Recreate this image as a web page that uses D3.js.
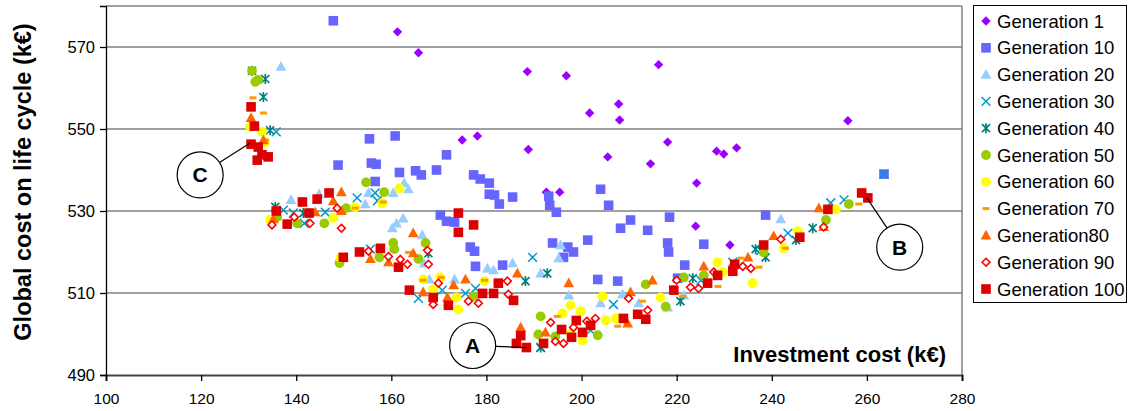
<!DOCTYPE html>
<html><head><meta charset="utf-8">
<script src="https://cdn.jsdelivr.net/npm/d3@7"></script>
<style>body{margin:0;background:#fff}svg{display:block}text{font-family:"Liberation Sans",Arial,sans-serif}</style>
</head><body>
<svg id="c" width="1129" height="411"></svg>
<script>
const xTicks=[100,120,140,160,180,200,220,240,260,280];
const yTicks=[490,510,530,550,570];
const seriesNames=["Generation 1","Generation 10","Generation 20","Generation 30","Generation 40","Generation 50","Generation 60","Generation 70","Generation80","Generation 90","Generation 100"];
const gen1=[[161.3,573.7],[165.7,568.6],[174.9,547.3],[178.1,548.3],[188.6,564.0],[188.8,545.0],[192.6,534.6],[195.4,534.6],[196.8,563.0],[201.7,553.9],[205.5,543.2],[207.8,556.1],[208.0,552.2],[214.5,541.5],[216.2,565.7],[218.1,546.8],[224.2,536.8],[224.0,526.3],[228.4,544.6],[229.9,543.9],[232.6,545.4],[231.2,521.7],[256.0,552.0]];
const gen10=[[147.8,576.4],[155.4,547.6],[160.8,548.3],[148.8,541.2],[155.8,541.7],[156.8,541.4],[161.7,539.4],[156.6,537.2],[171.6,543.7],[165.1,539.8],[166.3,538.8],[169.5,540.0],[177.3,538.8],[178.7,537.8],[180.6,536.8],[180.6,534.1],[181.7,533.9],[182.7,531.7],[185.5,533.4],[170.3,529.0],[171.6,527.5],[173.3,527.3],[176.6,521.2],[177.5,520.2],[177.7,516.5],[183.4,516.8],[193.1,533.6],[193.3,531.4],[194.7,529.7],[204.0,535.3],[205.7,531.4],[210.3,527.8],[208.2,525.8],[213.9,525.3],[218.5,528.5],[218.1,522.2],[218.3,520.0],[225.7,521.9],[238.7,529.0],[201.3,522.9],[193.9,522.2],[197.1,521.2],[198.3,520.0],[196.2,518.7],[203.4,513.3],[207.6,512.9],[221.7,516.8],[220.2,513.6],[263.6,539.0]];
const gen20=[[136.8,565.2],[138.9,532.7],[144.8,534.1],[154.5,531.7],[155.2,534.4],[160.4,534.4],[162.7,536.8],[163.6,535.3],[162.5,528.2],[161.1,527.0],[160.2,525.8],[166.5,524.1],[166.9,517.2],[168.0,513.3],[173.3,513.3],[180.2,516.0],[181.5,515.6],[185.5,517.3],[191.4,514.8],[195.2,518.5],[195.6,521.7],[197.3,509.4],[204.0,507.5],[208.6,509.7],[212.0,507.5],[218.1,506.5],[221.5,509.4],[241.9,528.0]];
const gen30=[[135.8,549.3],[137.3,530.2],[139.4,529.5],[141.7,527.0],[146.1,529.7],[152.8,533.2],[156.6,534.4],[157.1,532.5],[155.6,520.7],[165.7,508.7],[170.7,510.7],[175.6,509.9],[177.7,511.1],[189.7,518.7],[206.7,507.2],[191.4,496.7],[231.8,517.5],[243.4,524.6],[252.4,532.0],[255.2,532.7],[263.6,539.0],[201.9,500.9],[225.1,513.1],[237.7,520.4]];
const gen40=[[130.7,564.2],[133.5,562.2],[133.1,557.8],[134.5,549.7],[135.6,531.0],[141.5,529.5],[167.8,519.7],[188.2,512.9],[192.8,514.8],[191.4,496.7],[220.8,508.0],[223.4,513.6],[236.6,520.7],[238.7,518.7],[245.1,522.9],[248.6,525.8]];
const gen50=[[130.7,564.2],[131.4,561.5],[132.0,562.0],[154.7,537.0],[158.5,534.6],[136.0,528.5],[140.2,527.0],[145.9,527.0],[150.5,530.7],[149.1,517.3],[157.5,518.7],[160.6,520.7],[160.4,522.2],[165.7,518.3],[167.2,522.2],[177.3,509.2],[191.4,504.3],[190.9,499.9],[194.5,499.4],[203.4,499.7],[213.5,512.1],[217.7,506.7],[221.5,513.8],[225.7,514.3],[238.3,519.9],[251.4,527.8],[256.2,531.7]];
const gen60=[[130.3,550.5],[132.8,549.3],[133.5,546.8],[161.7,535.5],[134.5,527.8],[147.8,528.3],[152.4,530.9],[158.1,531.9],[149.3,518.5],[166.7,513.3],[170.3,513.8],[168.8,510.9],[173.7,508.9],[174.1,506.0],[179.6,512.9],[196.0,505.0],[197.7,507.0],[199.8,505.5],[200.2,498.4],[204.4,509.2],[205.1,503.3],[207.2,503.8],[197.7,500.1],[216.6,508.9],[228.6,517.5],[229.7,515.1],[236.0,512.4],[242.5,520.9],[245.5,525.1],[253.5,530.4]];
const gen70=[[130.9,557.6],[133.1,553.9],[133.5,547.3],[152.4,530.7],[158.3,532.2],[166.7,513.1],[170.5,513.8],[163.6,519.9],[179.6,513.1],[194.9,504.3],[212.8,508.0],[207.6,501.9],[228.7,511.6],[233.5,518.5],[237.3,516.3],[242.9,520.9],[258.3,531.7],[221.3,509.2]];
const gen80=[[130.5,552.7],[133.1,547.3],[149.5,534.6],[135.2,528.0],[144.0,529.7],[147.8,532.4],[149.5,530.0],[155.6,518.3],[159.4,517.5],[164.6,524.6],[164.6,519.7],[166.7,510.2],[171.8,508.9],[173.1,511.9],[175.6,513.3],[186.5,514.8],[187.2,501.6],[192.4,500.4],[197.3,512.4],[209.7,502.6],[210.3,510.2],[214.9,513.1],[225.7,516.5],[235.0,518.7],[240.4,523.9],[249.9,530.7],[250.9,526.1]];
const gen90=[[134.9,526.6],[139.6,528.5],[142.9,527.0],[148.6,530.7],[149.5,525.8],[155.2,520.2],[159.4,518.9],[161.9,518.2],[163.4,517.0],[167.6,520.4],[167.8,517.0],[169.9,512.4],[168.8,507.2],[176.2,508.0],[178.3,507.5],[184.4,512.9],[184.6,509.7],[193.5,502.8],[194.5,498.2],[196.2,497.7],[198.3,501.6],[201.1,503.1],[202.9,503.8],[209.9,508.7],[213.9,505.8],[220.0,513.1],[222.9,511.4],[224.6,511.1],[227.8,515.1],[233.9,516.5],[235.6,516.0],[241.9,523.1],[250.9,526.1]];
const gen100=[[130.5,555.4],[131.2,550.7],[130.5,546.3],[132.0,545.6],[131.8,542.4],[134.1,543.2],[132.8,543.7],[135.8,530.0],[138.1,526.8],[141.3,532.2],[142.7,529.5],[144.4,532.9],[146.9,534.4],[149.9,518.7],[153.3,520.0],[157.7,520.9],[161.5,516.3],[163.8,510.7],[168.8,508.9],[172.0,507.0],[174.1,529.5],[177.3,526.6],[174.1,524.8],[179.2,509.9],[181.5,509.9],[182.5,512.4],[185.7,508.2],[186.3,497.7],[187.2,499.6],[188.4,496.7],[192.0,497.7],[195.8,501.1],[197.9,499.2],[198.9,503.3],[200.2,500.4],[201.9,502.1],[208.8,503.8],[211.8,504.8],[213.5,503.6],[219.4,510.7],[226.5,512.4],[228.6,514.3],[231.8,515.3],[232.2,517.0],[238.3,521.7],[245.9,523.6],[251.8,530.4],[258.9,534.4],[260.2,533.2]];
// annotations: label, circle centre [x,y], pointer target [x,y]
const annotations=[
  {label:"C",centre:[119.8,538.8],target:[130.3,546.6]},
  {label:"A",centre:[177.1,497.2],target:[188.6,496.7]},
  {label:"B",centre:[266.9,521.2],target:[260.0,533.2]}
];

const allData=[gen1,gen10,gen20,gen30,gen40,gen50,gen60,gen70,gen80,gen90,gen100];
const styles=[
  {t:"diamond",c:"#9900FF"},{t:"square",c:"#6666FF"},{t:"triangle",c:"#99CCFF"},
  {t:"cross",c:"#0099CC"},{t:"star",c:"#008080"},{t:"circle",c:"#99CC00"},
  {t:"circle",c:"#FFFF00"},{t:"dash",c:"#FF9900"},{t:"triangle",c:"#FF6600"},
  {t:"hdiamond",c:"#FF0000"},{t:"square",c:"#DD0000"}
];

const svg=d3.select("#c");
const m={l:106,r:962,t:6,b:375};
const x=d3.scaleLinear().domain([100,280]).range([m.l,m.r]);
const y=d3.scaleLinear().domain([490,580]).range([m.b,m.t]);

// grid
svg.append("g").selectAll("line").data([510,530,550,570,580]).join("line")
  .attr("x1",m.l).attr("x2",m.r).attr("y1",d=>y(d)).attr("y2",d=>y(d))
  .attr("stroke","#808080").attr("stroke-width",1.5);
svg.append("line").attr("x1",m.r).attr("x2",m.r).attr("y1",m.t).attr("y2",m.b)
  .attr("stroke","#808080").attr("stroke-width",1.5);

// axes
const gx=svg.append("g").attr("transform",`translate(0,${m.b})`)
  .call(d3.axisBottom(x).tickValues(xTicks).tickSize(6).tickPadding(12));
const gy=svg.append("g").attr("transform",`translate(${m.l},0)`)
  .call(d3.axisLeft(y).tickValues(yTicks).tickSize(6).tickPadding(5));
[gx,gy].forEach(g=>{
  g.selectAll("path,line").attr("stroke","#000").attr("stroke-width",1.3);
  g.selectAll("text").attr("fill","#000").attr("font-family","Liberation Sans, Arial, sans-serif");
});
gx.selectAll("text").attr("font-size",15.5);
gy.selectAll("text").attr("font-size",16.5);
gx.select(".domain").attr("stroke","#444").attr("stroke-width",2);

function drawSym(sel,t,c){
  const r=4.7;
  if(t==="diamond") sel.append("path").attr("d",`M0,${-r}L${r},0L0,${r}L${-r},0Z`).attr("fill",c);
  else if(t==="hdiamond") sel.append("path").attr("d",`M0,${-3.9}L3.9,0L0,3.9L-3.9,0Z`).attr("fill","#fff").attr("stroke",c).attr("stroke-width",1.6);
  else if(t==="square") sel.append("rect").attr("x",-4.8).attr("y",-4.8).attr("width",9.6).attr("height",9.6).attr("fill",c);
  else if(t==="triangle") sel.append("path").attr("d","M0,-5.6L5.4,4.1L-5.4,4.1Z").attr("fill",c);
  else if(t==="circle") sel.append("circle").attr("r",4.9).attr("fill",c);
  else if(t==="dash") sel.append("rect").attr("x",-3.5).attr("y",-1.5).attr("width",7).attr("height",3).attr("fill",c);
  else if(t==="cross") sel.append("path").attr("d","M-4.4,-4.4L4.4,4.4M-4.4,4.4L4.4,-4.4").attr("stroke",c).attr("stroke-width",1.5).attr("fill","none");
  else if(t==="star") sel.append("path").attr("d","M-4,-4L4,4M-4,4L4,-4M0,-5L0,5").attr("stroke",c).attr("stroke-width",1.7).attr("fill","none");
}

const plot=svg.append("g");
allData.forEach((data,i)=>{
  const st=styles[i];
  plot.append("g").selectAll("g").data(data).join("g")
    .attr("transform",d=>`translate(${x(d[0])},${y(d[1])})`)
    .each(function(){drawSym(d3.select(this),st.t,st.c);});
});

// annotations
const ann=svg.append("g");
annotations.forEach(a=>{
  const cx=x(a.centre[0]),cy=y(a.centre[1]),tx=x(a.target[0]),ty=y(a.target[1]);
  const R=23, ang=Math.atan2(ty-cy,tx-cx);
  ann.append("line").attr("x1",cx+R*Math.cos(ang)).attr("y1",cy+R*Math.sin(ang))
    .attr("x2",tx).attr("y2",ty).attr("stroke","#000").attr("stroke-width",1.2);
  ann.append("circle").attr("cx",cx).attr("cy",cy).attr("r",R).attr("fill","#fff").attr("stroke","#000").attr("stroke-width",1.2);
  ann.append("text").attr("x",cx).attr("y",cy+7.5).attr("text-anchor","middle")
    .attr("font-size",21).attr("font-weight","bold").text(a.label);
});

// axis titles
svg.append("text").attr("transform","translate(31,182) rotate(-90)").attr("text-anchor","middle")
  .attr("font-size",23.5).attr("font-weight","bold").text("Global cost on life cycle (k€)");
svg.append("text").attr("x",946).attr("y",362).attr("text-anchor","end")
  .attr("font-size",22).attr("font-weight","bold").text("Investment cost (k€)");

// legend
const lg=svg.append("g");
lg.append("rect").attr("x",973.5).attr("y",5.5).attr("width",153).attr("height",297)
  .attr("fill","#fff").attr("stroke","#000").attr("stroke-width",1);
seriesNames.forEach((n,i)=>{
  const yy=21+i*26.8;
  const g=lg.append("g").attr("transform",`translate(986,${yy})`);
  drawSym(g,styles[i].t,styles[i].c);
  lg.append("text").attr("x",997).attr("y",yy+6.5).attr("font-size",18.5).attr("fill","#000").text(n);
});
</script>
</body></html>
